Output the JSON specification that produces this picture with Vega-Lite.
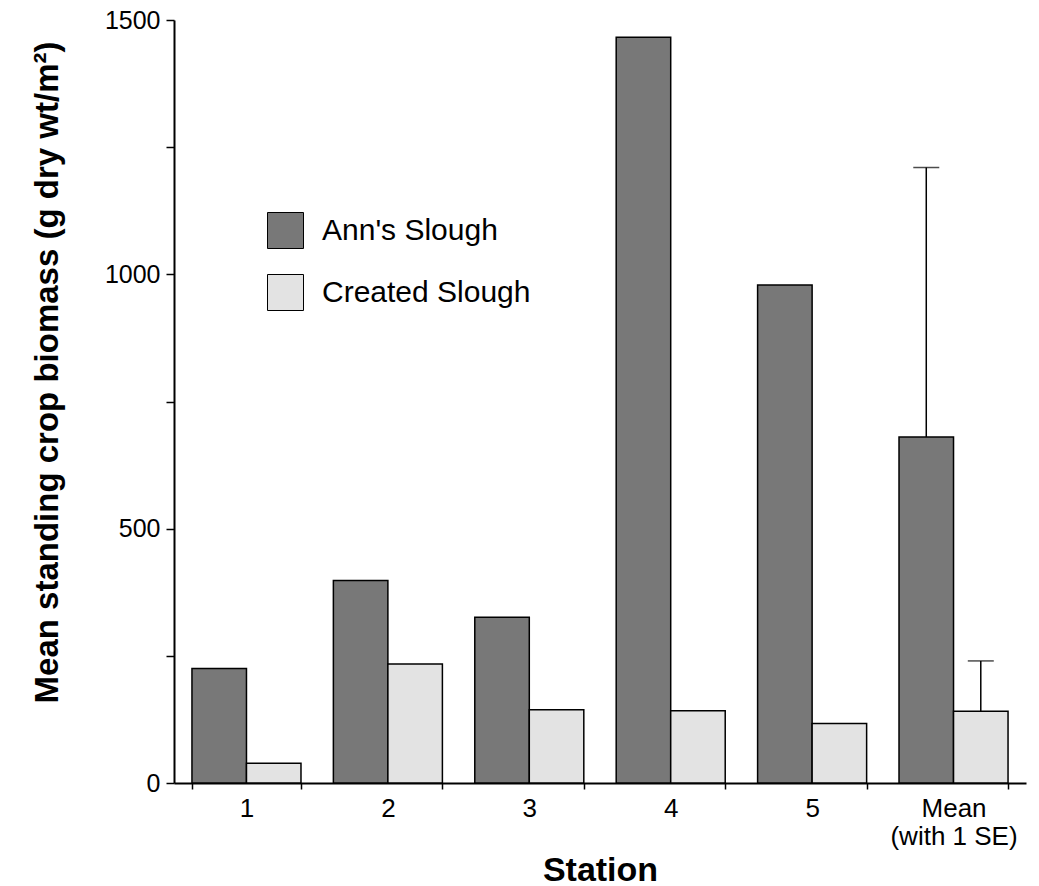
{
  "$schema": "https://vega.github.io/schema/vega-lite/v6.json",
  "width": 852,
  "height": 763,
  "autosize": {"type": "none"},
  "padding": {"left": 174, "top": 20, "right": 13, "bottom": 103},
  "background": "white",
  "config": {
    "view": {"stroke": null},
    "font": "Liberation Sans",
    "axis": {"domainColor": "black", "tickColor": "black", "labelColor": "black", "titleColor": "black", "grid": false}
  },
  "data": {
    "values": [
      {"station": "1", "site": "Ann's Slough", "value": 225, "upper": null},
      {"station": "1", "site": "Created Slough", "value": 39, "upper": null},
      {"station": "2", "site": "Ann's Slough", "value": 398, "upper": null},
      {"station": "2", "site": "Created Slough", "value": 234, "upper": null},
      {"station": "3", "site": "Ann's Slough", "value": 326, "upper": null},
      {"station": "3", "site": "Created Slough", "value": 144, "upper": null},
      {"station": "4", "site": "Ann's Slough", "value": 1466, "upper": null},
      {"station": "4", "site": "Created Slough", "value": 142, "upper": null},
      {"station": "5", "site": "Ann's Slough", "value": 979, "upper": null},
      {"station": "5", "site": "Created Slough", "value": 117, "upper": null},
      {"station": "Mean", "site": "Ann's Slough", "value": 680, "upper": 1210},
      {"station": "Mean", "site": "Created Slough", "value": 141, "upper": 240}
    ]
  },
  "encoding": {
    "x": {
      "field": "station",
      "type": "nominal",
      "sort": ["1", "2", "3", "4", "5", "Mean"],
      "scale": {"paddingInner": 0.229, "paddingOuter": 0.127},
      "axis": {
        "title": "Station",
        "titleFontSize": 34,
        "titleFontWeight": "bold",
        "titlePadding": 4,
        "labelAngle": 0,
        "labelFontSize": 26,
        "labelPadding": 6,
        "labelLineHeight": 28,
        "labelExpr": "datum.value == 'Mean' ? ['Mean', '(with 1 SE)'] : datum.value",
        "tickBand": "extent",
        "tickSize": 6,
        "domainWidth": 2,
        "tickWidth": 1.5
      }
    },
    "xOffset": {
      "field": "site",
      "type": "nominal",
      "sort": ["Ann's Slough", "Created Slough"],
      "scale": {"paddingInner": 0, "paddingOuter": 0}
    }
  },
  "layer": [
    {
      "mark": {"type": "bar", "stroke": "black", "strokeWidth": 1.5},
      "encoding": {
        "y": {
          "field": "value",
          "type": "quantitative",
          "scale": {"domain": [0, 1500], "nice": false},
          "axis": {
            "title": "Mean standing crop biomass (g dry wt/m²)",
            "titleFontSize": 33,
            "titleFontWeight": "bold",
            "titlePadding": 40,
            "titleY": 352,
            "labelFontSize": 25,
            "labelPadding": 6,
            "format": "d",
            "values": [0, 250, 500, 750, 1000, 1250, 1500],
            "labelExpr": "datum.value % 500 == 0 ? datum.label : ''",
            "tickSize": 8,
            "tickWidth": 1.5,
            "domainWidth": 2
          }
        },
        "fill": {
          "field": "site",
          "type": "nominal",
          "sort": ["Ann's Slough", "Created Slough"],
          "scale": {"domain": ["Ann's Slough", "Created Slough"], "range": ["#787878", "#e3e3e3"]},
          "legend": {
            "orient": "none",
            "legendX": 93,
            "legendY": 192,
            "title": null,
            "symbolType": "square",
            "symbolSize": 1296,
            "symbolStrokeColor": "black",
            "symbolStrokeWidth": 1,
            "labelFontSize": 30,
            "labelLimit": 400,
            "labelColor": "black",
            "labelOffset": 18,
            "rowPadding": 21
          }
        }
      }
    },
    {
      "transform": [{"filter": "datum.upper != null"}],
      "mark": {"type": "rule", "color": "black", "strokeWidth": 1.5},
      "encoding": {
        "y": {"field": "value", "type": "quantitative", "scale": {"domain": [0, 1500], "nice": false}, "axis": {"title": "Mean standing crop biomass (g dry wt/m²)"}},
        "y2": {"field": "upper"}
      }
    },
    {
      "transform": [{"filter": "datum.upper != null"}],
      "mark": {"type": "tick", "color": "black", "thickness": 1.5, "size": 26},
      "encoding": {
        "y": {"field": "upper", "type": "quantitative", "scale": {"domain": [0, 1500], "nice": false}, "axis": {"title": "Mean standing crop biomass (g dry wt/m²)"}}
      }
    }
  ]
}
